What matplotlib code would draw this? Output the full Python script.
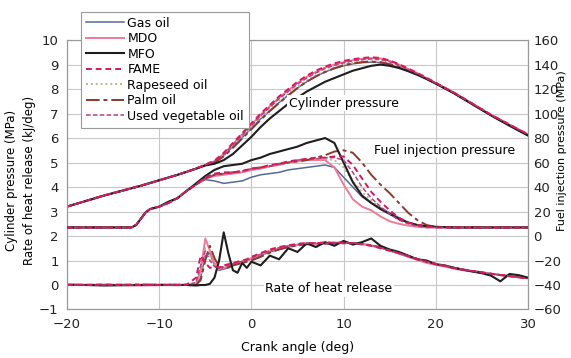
import matplotlib
matplotlib.use("Agg")
import matplotlib.pyplot as plt

# crank angle grids (deg)
cp_deg = [-20, -16, -12, -8, -6, -5, -4, -3, -2, -1, 0, 1, 2, 3, 4, 5, 6, 7, 8, 9, 10,
          11, 12, 13, 14, 15, 16, 17, 18, 19, 20, 22, 24, 26, 28, 30]
inj_deg = [-20, -14, -13, -12.5, -12, -11.5, -11, -10, -9, -8, -7, -6, -5, -4, -3, -2, -1, 0,
           1, 2, 3, 4, 5, 6, 7, 8, 9, 10, 11, 12, 13, 14, 15, 16, 17, 18, 19, 20, 22, 25, 28, 30]
hr_deg = [-20, -16, -12, -8, -7, -6, -5.5, -5, -4.5, -4, -3.5, -3, -2.5, -2, -1.5, -1, -0.5, 0,
          1, 2, 3, 4, 5, 6, 7, 8, 9, 10, 11, 12, 13, 14, 15, 16, 17, 18, 19, 20,
          21, 22, 23, 24, 25, 26, 27, 28, 29, 30]

# cylinder pressure (MPa)
cp_gas = [3.2, 3.65, 4.05, 4.5, 4.75, 4.9, 5.0, 5.28, 5.65, 6.02, 6.4, 6.78, 7.12, 7.45, 7.75, 8.05,
          8.3, 8.52, 8.7, 8.84, 8.95, 9.03, 9.08, 9.1, 9.08, 9.0, 8.9, 8.75, 8.6, 8.42, 8.23,
          7.83, 7.38, 6.93, 6.52, 6.12]
cp_mdo = [3.2, 3.65, 4.05, 4.5, 4.75, 4.9, 5.05, 5.35, 5.75, 6.15, 6.55, 6.95, 7.3, 7.65, 7.95, 8.25,
          8.5, 8.7, 8.88, 9.0, 9.1, 9.18, 9.24, 9.27, 9.25, 9.15, 9.0, 8.82, 8.65, 8.45, 8.25,
          7.85, 7.4, 6.95, 6.55, 6.15]
cp_mfo = [3.2, 3.65, 4.05, 4.5, 4.75, 4.88, 4.95, 5.1, 5.35, 5.7, 6.05, 6.45, 6.8, 7.1, 7.4, 7.65,
          7.9, 8.1, 8.3, 8.45, 8.6, 8.75, 8.85, 8.95, 9.0, 8.95, 8.86, 8.73, 8.58, 8.41, 8.22,
          7.82, 7.37, 6.92, 6.5, 6.1]
cp_fame = [3.2, 3.66, 4.06, 4.5, 4.76, 4.92, 5.08, 5.4, 5.8, 6.2, 6.6, 7.0, 7.35, 7.7, 8.0, 8.3,
           8.55, 8.75, 8.92, 9.05, 9.15, 9.22, 9.27, 9.3, 9.27, 9.17, 9.02, 8.84, 8.66, 8.46, 8.26,
           7.85, 7.4, 6.95, 6.55, 6.15]
cp_rape = [3.2, 3.65, 4.05, 4.5, 4.75, 4.9, 5.02, 5.3, 5.68, 6.06, 6.44, 6.82, 7.16, 7.5, 7.8, 8.1,
           8.35, 8.56, 8.74, 8.88, 8.99, 9.07, 9.12, 9.14, 9.12, 9.04, 8.92, 8.77, 8.61, 8.43, 8.24,
           7.84, 7.39, 6.94, 6.53, 6.13]
cp_palm = [3.2, 3.65, 4.05, 4.5, 4.75, 4.9, 5.0, 5.25, 5.6, 5.98, 6.36, 6.74, 7.1, 7.43, 7.74, 8.04,
           8.3, 8.52, 8.7, 8.85, 8.97, 9.05, 9.1, 9.12, 9.1, 9.02, 8.91, 8.76, 8.6, 8.42, 8.23,
           7.83, 7.38, 6.93, 6.52, 6.12]
cp_uvo = [3.2, 3.64, 4.04, 4.5, 4.75, 4.9, 5.05, 5.33, 5.72, 6.12, 6.5, 6.9, 7.26, 7.6, 7.9, 8.2,
          8.45, 8.66, 8.84, 8.97, 9.07, 9.15, 9.2, 9.23, 9.2, 9.12, 8.98, 8.8, 8.63, 8.44, 8.24,
          7.84, 7.4, 6.95, 6.55, 6.15]

# fuel injection pressure (MPa)
inj_gas = [7, 7, 7, 9, 14, 19, 22, 24, 27, 31, 37, 42, 46, 45, 43, 44, 45, 48,
           50, 51, 52, 54, 55, 56, 57, 58, 56, 48, 40, 32, 27, 23, 19, 15, 11, 9, 8, 7, 7, 7, 7, 7]
inj_mdo = [7, 7, 7, 9, 14, 19, 22, 24, 27, 31, 37, 42, 47, 49, 50, 51, 52, 54,
           55, 57, 58, 60, 61, 62, 62, 62, 56, 42, 30, 24, 21, 16, 12, 10, 8.5, 7.5, 7, 7, 7, 7, 7, 7]
inj_mfo = [7, 7, 7, 9, 14, 19, 22, 24, 28, 31, 37, 43, 49, 54, 57, 58, 59, 62,
           64, 67, 69, 71, 73, 76, 78, 80, 76, 60, 44, 33, 27, 22, 18, 14, 11, 9, 8, 7.5, 7, 7, 7, 7]
inj_fame = [7, 7, 7, 9, 14, 19, 22, 24, 27, 31, 37, 42, 48, 51, 52, 52, 53, 55,
            56, 58, 59, 61, 62, 63, 64, 64, 65, 65, 58, 47, 36, 28, 21, 15, 11, 9, 8, 7, 7, 7, 7, 7]
inj_rape = [7, 7, 7, 9, 14, 19, 22, 24, 27, 31, 37, 42, 47, 50, 51, 51, 52, 54,
            55, 57, 58, 60, 61, 62, 63, 63, 62, 56, 45, 36, 29, 23, 18, 14, 11, 9, 8, 7, 7, 7, 7, 7]
inj_palm = [7, 7, 7, 9, 14, 19, 22, 24, 27, 31, 37, 42, 47, 50, 51, 52, 53, 55,
            56, 57, 59, 60, 61, 62, 64, 66, 69, 70, 68, 60, 50, 42, 35, 27, 19, 13, 9, 7.5, 7, 7, 7, 7]
inj_uvo = [7, 7, 7, 9, 14, 19, 22, 24, 27, 31, 37, 42, 47, 50, 51, 52, 53, 55,
           56, 57, 59, 60, 62, 63, 63, 64, 64, 62, 52, 40, 31, 24, 18, 13, 10, 8, 7, 7, 7, 7, 7, 7]

# rate of heat release (kJ/deg)
hr_gas = [0.0, 0.0, 0.02, -0.02, 0.0, 0.0, 0.3, 1.2, 1.3, 0.8, 0.6, 0.65, 0.7, 0.8, 0.85, 0.92, 1.0, 1.05,
          1.2, 1.35, 1.45, 1.55, 1.62, 1.68, 1.66, 1.7, 1.68, 1.72, 1.7, 1.66, 1.6, 1.52, 1.4, 1.28,
          1.16, 1.04, 0.93, 0.84, 0.77, 0.69, 0.62, 0.56, 0.51, 0.46, 0.41, 0.36, 0.32, 0.28]
hr_mdo = [0.0, 0.02, -0.02, 0.0, 0.0, 0.05, 0.6, 1.9, 1.4, 0.9, 0.65, 0.7, 0.75, 0.85, 0.9, 0.95, 1.0, 1.1,
          1.25, 1.4, 1.5, 1.6, 1.65, 1.7, 1.65, 1.72, 1.7, 1.75, 1.7, 1.68, 1.62, 1.55, 1.4, 1.28,
          1.15, 1.02, 0.9, 0.82, 0.75, 0.66, 0.6, 0.55, 0.5, 0.45, 0.4, 0.35, 0.32, 0.28]
hr_mfo = [0.02, -0.02, 0.0, 0.01, 0.0, -0.02, 0.0, 0.0, 0.05, 0.3, 1.0, 2.15, 1.3, 0.6, 0.5, 0.9, 0.7, 0.95,
          0.8, 1.2, 1.05, 1.5, 1.35, 1.7, 1.55, 1.75, 1.6, 1.8, 1.65, 1.75, 1.9, 1.6, 1.45, 1.35,
          1.2, 1.05, 1.0, 0.85, 0.8, 0.7, 0.62, 0.55, 0.48, 0.38, 0.15, 0.45, 0.4, 0.3]
hr_fame = [0.0, 0.02, 0.0, 0.0, 0.02, 0.3, 1.2, 0.9, 0.7, 0.75, 0.7, 0.8, 0.85, 0.9, 0.95, 1.0, 1.05, 1.15,
           1.3, 1.45, 1.55, 1.62, 1.68, 1.72, 1.7, 1.75, 1.72, 1.74, 1.7, 1.66, 1.6, 1.5, 1.4, 1.3,
           1.18, 1.06, 0.95, 0.86, 0.78, 0.7, 0.63, 0.57, 0.51, 0.46, 0.41, 0.36, 0.31, 0.27]
hr_rape = [0.0, 0.0, 0.0, 0.02, 0.0, 0.02, 0.4, 1.5, 1.2, 0.8, 0.7, 0.72, 0.78, 0.85, 0.9, 0.95, 1.0, 1.08,
           1.22, 1.38, 1.5, 1.58, 1.64, 1.68, 1.68, 1.7, 1.7, 1.72, 1.7, 1.67, 1.6, 1.52, 1.42, 1.3,
           1.18, 1.06, 0.95, 0.86, 0.78, 0.7, 0.63, 0.57, 0.51, 0.46, 0.41, 0.36, 0.31, 0.27]
hr_palm = [0.0, 0.0, 0.02, 0.0, 0.0, 0.0, 0.2, 1.0, 1.6, 1.1, 0.75, 0.7, 0.72, 0.8, 0.85, 0.9, 0.95, 1.0,
           1.15, 1.32, 1.45, 1.55, 1.62, 1.66, 1.7, 1.68, 1.72, 1.7, 1.72, 1.68, 1.62, 1.54, 1.43, 1.31,
           1.19, 1.07, 0.96, 0.86, 0.78, 0.7, 0.63, 0.57, 0.52, 0.46, 0.41, 0.37, 0.32, 0.28]
hr_uvo = [0.0, 0.0, 0.0, 0.0, 0.02, 0.1, 0.8, 1.4, 1.0, 0.75, 0.7, 0.75, 0.8, 0.88, 0.92, 0.97, 1.02, 1.1,
          1.25, 1.4, 1.52, 1.6, 1.66, 1.7, 1.72, 1.7, 1.74, 1.72, 1.72, 1.68, 1.62, 1.53, 1.42, 1.3,
          1.18, 1.06, 0.95, 0.86, 0.78, 0.7, 0.63, 0.57, 0.51, 0.46, 0.41, 0.36, 0.31, 0.27]

labels = ['Gas oil', 'MDO', 'MFO', 'FAME', 'Rapeseed oil', 'Palm oil', 'Used vegetable oil']
cp_all = [cp_gas, cp_mdo, cp_mfo, cp_fame, cp_rape, cp_palm, cp_uvo]
inj_all = [inj_gas, inj_mdo, inj_mfo, inj_fame, inj_rape, inj_palm, inj_uvo]
hr_all = [hr_gas, hr_mdo, hr_mfo, hr_fame, hr_rape, hr_palm, hr_uvo]

# line styles (color, dashes, width, zorder)
styles = [
    ('#56689a', None, 1.1, 3),
    ('#ef7b98', None, 1.4, 4),
    ('#1e1e1e', None, 1.5, 5),
    ('#d8185e', (3, 2), 1.4, 7),
    ('#b9b98a', (1, 1.5), 1.4, 3),
    ('#8b3a2c', (7, 2, 2, 2), 1.4, 4),
    ('#b24384', (3, 1.5), 1.1, 6),
]

fig = plt.figure(figsize=(5.71, 3.58), dpi=100)
ax = fig.add_axes([0.1173, 0.1355, 0.8074, 0.7525])
ax2 = ax.twinx()

handles = []
for lab, cp, inj, hr, (c, d, lw, z) in zip(labels, cp_all, inj_all, hr_all, styles):
    kw = dict(color=c, lw=lw, zorder=z)
    if d is not None:
        kw['dashes'] = d
    h, = ax.plot(cp_deg, cp, label=lab, **kw)
    ax.plot(hr_deg, hr, **kw)
    ax2.plot(inj_deg, inj, **kw)
    handles.append(h)

ax.set_xlim(-20, 30)
ax.set_ylim(-1, 10)
ax.set_xticks(range(-20, 31, 10))
ax.set_yticks(range(-1, 11))
ax2.set_ylim(-60, 160)
ax2.set_yticks(range(-60, 161, 20))

ax.set_axisbelow(True)
ax.grid(True, color='#c8c8c8', lw=0.8)
for a in (ax, ax2):
    for s in a.spines.values():
        s.set_color('#999999')
    a.tick_params(length=0, labelsize=9.5, colors='#222222', pad=6)
ax2.tick_params(pad=4)

ax.set_xlabel('Crank angle (deg)', fontsize=9, labelpad=7)
ax.set_ylabel('Cylinder pressure (MPa)\nRate of heat release (kJ/deg)', fontsize=8.5,
              linespacing=1.5)
ax.yaxis.set_label_coords(-0.068, 0.48)
ax2.set_ylabel('Fuel injection pressure (MPa)', fontsize=8)
ax2.yaxis.set_label_coords(1.062, 0.59)

box = dict(facecolor='white', edgecolor='none', pad=1)
ax.text(10, 7.43, 'Cylinder pressure', fontsize=9, ha='center', va='center', bbox=box, zorder=8)
ax.text(20.9, 5.5, 'Fuel injection pressure', fontsize=9, ha='center', va='center', bbox=box, zorder=8)
ax.text(8.4, -0.15, 'Rate of heat release', fontsize=9, ha='center', va='center', bbox=box, zorder=8)

leg = fig.legend(handles=handles, loc='upper left', bbox_to_anchor=(0.131, 0.985),
                 fontsize=9, handlelength=3, labelspacing=0.2, borderpad=0.4,
                 handletextpad=0.3, fancybox=False, framealpha=1)
leg.get_frame().set_edgecolor('#999999')
leg.get_frame().set_linewidth(0.8)

fig.savefig('out.png', dpi=100)
